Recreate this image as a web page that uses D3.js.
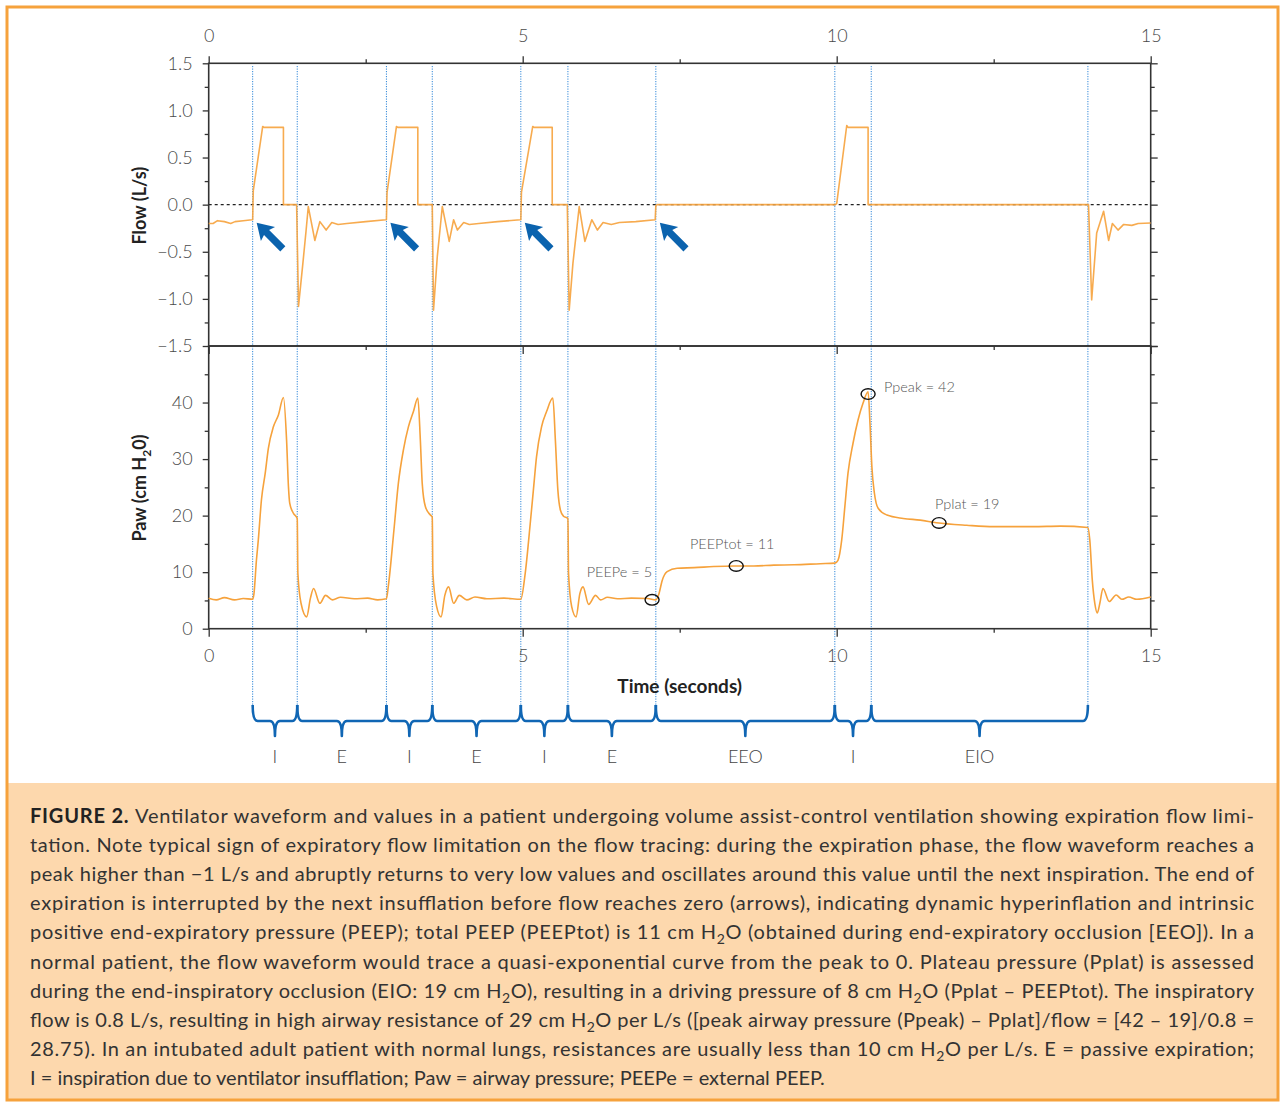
<!DOCTYPE html>
<html>
<head>
<meta charset="utf-8">
<script src="https://cdn.jsdelivr.net/npm/d3@7"></script>
<style>
  body { margin: 0; background: #fff; }
  svg { display: block; font-family: Lato, "Open Sans", sans-serif; }
</style>
</head>
<body>
<svg id="chart" width="1285" height="1103"></svg>
<script>
// Ventilator waveforms: flow (top) and airway pressure (bottom) against time

// flow trace, [seconds, L/s]
const flowTrace = [
  [0, -0.2], [0.07, -0.2], [0.14, -0.17], [0.25, -0.18], [0.35, -0.2], [0.42, -0.18], [0.55, -0.17], [0.69, -0.16],
  [0.70, -0.16], [0.71, 0.15], [0.86, 0.83], [0.88, 0.82], [1.19, 0.82], [1.19, 0], [1.40, 0],
  [1.43, -1.08], [1.50, -0.62], [1.55, -0.28], [1.586, -0.02], [1.69, -0.38], [1.77, -0.18], [1.87, -0.27],
  [1.96, -0.19], [2.06, -0.21], [2.2, -0.2], [2.5, -0.18], [2.82, -0.16],
  [2.83, -0.16], [2.84, 0.13], [2.99, 0.83], [3.01, 0.82], [3.33, 0.82], [3.33, 0], [3.56, 0],
  [3.58, -1.12], [3.64, -0.55], [3.72, -0.02], [3.83, -0.39], [3.90, -0.16], [3.96, -0.27], [4.06, -0.19],
  [4.15, -0.21], [4.3, -0.2], [4.6, -0.18], [4.96, -0.16],
  [4.97, -0.16], [4.98, 0.13], [5.16, 0.83], [5.18, 0.82], [5.47, 0.82], [5.47, 0], [5.71, 0],
  [5.74, -1.12], [5.80, -0.62], [5.90, -0.02], [5.99, -0.39], [6.10, -0.16], [6.19, -0.27], [6.28, -0.19],
  [6.41, -0.21], [6.54, -0.19], [6.8, -0.18], [7.11, -0.16],
  [7.12, -0.01], [7.14, 0], [9.97, 0],
  [10.0, 0.01], [10.16, 0.84], [10.18, 0.82], [10.50, 0.82], [10.50, 0], [14.01, 0],
  [14.06, -1.01], [14.14, -0.30], [14.25, -0.07], [14.33, -0.38], [14.39, -0.2], [14.48, -0.27],
  [14.57, -0.21], [14.70, -0.22], [14.80, -0.2], [15, -0.195]
];

// airway pressure trace, [seconds, cm H2O]
const pawTrace = [
  [0, 5.4], [0.12, 5.1], [0.25, 5.5], [0.41, 5.1], [0.55, 5.35], [0.70, 5.2],
  [0.72, 6.1], [0.76, 12.1], [0.79, 15.7], [0.84, 22.8], [0.90, 27.5], [0.95, 31.9], [1.03, 35.7], [1.11, 37.8], [1.19, 40.9],
  [1.24, 33.4], [1.27, 25.1], [1.29, 22.2], [1.35, 20.4], [1.41, 19.5],
  [1.42, 9.8], [1.47, 4.5], [1.56, 2.1], [1.62, 5.4], [1.67, 7.1], [1.77, 4.5], [1.86, 5.9], [1.97, 5.1],
  [2.1, 5.55], [2.32, 5.3], [2.53, 5.4], [2.69, 5.1], [2.83, 5.3],
  [2.86, 7.5], [2.95, 17.5], [3.02, 25.7], [3.10, 31.6], [3.18, 35.7], [3.26, 38.4], [3.33, 40.8],
  [3.37, 33.4], [3.40, 25.7], [3.45, 21.6], [3.53, 20.1], [3.56, 19.7],
  [3.57, 9.8], [3.63, 3.9], [3.70, 2.1], [3.76, 5.9], [3.82, 7.4], [3.90, 4.5], [3.99, 5.9], [4.11, 5.1],
  [4.24, 5.6], [4.43, 5.3], [4.70, 5.4], [4.97, 5.2],
  [5.04, 9.8], [5.12, 18.6], [5.17, 24.5], [5.22, 30.4], [5.30, 35.7], [5.38, 38.4], [5.48, 40.8],
  [5.52, 33.4], [5.56, 24.5], [5.60, 21.0], [5.65, 19.9], [5.72, 19.5],
  [5.73, 9.8], [5.78, 3.9], [5.85, 2.1], [5.91, 6.2], [5.96, 7.4], [6.05, 4.3], [6.16, 5.9], [6.24, 5.1],
  [6.35, 5.55], [6.51, 5.3], [6.73, 5.4], [6.99, 5.35], [7.12, 5.1],
  [7.17, 6.2], [7.22, 8.5], [7.30, 10.1], [7.46, 10.7], [7.73, 10.8], [8.04, 11.0], [8.36, 11.1], [8.68, 11.1],
  [9.0, 11.25], [9.32, 11.3], [9.74, 11.5], [9.97, 11.6],
  [10.02, 12.1], [10.08, 15.7], [10.13, 21.6], [10.18, 27.5], [10.26, 32.8], [10.34, 36.9], [10.42, 39.9], [10.50, 41.9],
  [10.53, 36.3], [10.56, 28.7], [10.60, 24.0], [10.66, 21.3], [10.80, 20.1], [11.06, 19.5], [11.33, 19.2],
  [11.59, 18.75], [12.07, 18.3], [12.50, 18.05], [13.13, 18.05], [13.56, 18.15], [14.0, 17.9],
  [14.03, 15.7], [14.07, 8.6], [14.11, 4.5], [14.15, 2.8], [14.19, 4.5], [14.24, 7.1], [14.34, 4.8],
  [14.45, 5.96], [14.54, 5.2], [14.65, 5.6], [14.78, 5.2], [15, 5.6]
];

// phase boundaries (s) and the phase names between them
const phaseBounds = [0.70, 1.41, 2.83, 3.56, 4.97, 5.72, 7.12, 9.97, 10.55, 14.0];
const phaseLabels = ["I", "E", "I", "E", "I", "E", "EEO", "I", "EIO"];

// arrows mark interrupted expirations: [seconds, flow]
const arrowPoints = [[0.70, -0.17], [2.83, -0.17], [4.97, -0.17], [7.12, -0.17]];

// circled pressure readings
const pressureNotes = [
  { key: "peepe", label: "PEEPe = 5", t: 7.06, p: 5.1 },
  { key: "peeptot", label: "PEEPtot = 11", t: 8.40, p: 11.1 },
  { key: "ppeak", label: "Ppeak = 42", t: 10.50, p: 41.5 },
  { key: "pplat", label: "Pplat = 19", t: 11.63, p: 18.7 }
];

const timeMajor = [0, 5, 10, 15];
const timeMinor = [2.5, 7.5, 12.5];
const flowMajor = [-1.5, -1.0, -0.5, 0, 0.5, 1.0, 1.5];
const flowMinor = [-1.25, -0.75, -0.25, 0.25, 0.75, 1.25];
const pawMajor = [0, 10, 20, 30, 40, 50];
const pawLabeled = [0, 10, 20, 30, 40];
const pawMinor = [5, 15, 25, 35, 45];

const captionLines = [
  "Ventilator waveform and values in a patient undergoing volume assist-control ventilation showing expiration flow limi-",
  "tation. Note typical sign of expiratory flow limitation on the flow tracing: during the expiration phase, the flow waveform reaches a",
  "peak higher than \u22121 L/s and abruptly returns to very low values and oscillates around this value until the next inspiration. The end of",
  "expiration is interrupted by the next insufflation before flow reaches zero (arrows), indicating dynamic hyperinflation and intrinsic",
  "positive end-expiratory pressure (PEEP); total PEEP (PEEPtot) is 11 cm H2O (obtained during end-expiratory occlusion [EEO]). In a",
  "normal patient, the flow waveform would trace a quasi-exponential curve from the peak to 0. Plateau pressure (Pplat) is assessed",
  "during the end-inspiratory occlusion (EIO: 19 cm H2O), resulting in a driving pressure of 8 cm H2O (Pplat \u2013 PEEPtot). The inspiratory",
  "flow is 0.8 L/s, resulting in high airway resistance of 29 cm H2O per L/s ([peak airway pressure (Ppeak) \u2013 Pplat]/flow = [42 \u2013 19]/0.8 =",
  "28.75). In an intubated adult patient with normal lungs, resistances are usually less than 10 cm H2O per L/s. E = passive expiration;",
  "I = inspiration due to ventilator insufflation; Paw = airway pressure; PEEPe = external PEEP."
];

// ---- layout ----
const svg = d3.select("#chart");
const ORANGE = "#f6a23c";
const BLUE = "#1066b4";
const AXIS = "#333";
const TICKTXT = "#4a4a4a";

const x = d3.scaleLinear().domain([0, 15]).range([208.7, 1150.7]);
const yFlow = d3.scaleLinear().domain([-1.5, 1.5]).range([346, 63.3]);
const yPaw = d3.scaleLinear().domain([0, 50]).range([628.7, 346]);

// frame and caption box
svg.append("rect").attr("x", 7).attr("y", 783).attr("width", 1271).attr("height", 317)
  .attr("fill", "#fdd8ad");
svg.append("rect").attr("x", 7).attr("y", 7).attr("width", 1271).attr("height", 1093)
  .attr("fill", "none").attr("stroke", ORANGE).attr("stroke-width", 3);

// phase divider lines
svg.append("g").selectAll("line")
  .data(phaseBounds)
  .enter().append("line")
  .attr("x1", d => x(d)).attr("x2", d => x(d))
  .attr("y1", 66).attr("y2", 705)
  .attr("stroke", "#2f86d8")
  .attr("stroke-width", 1)
  .attr("stroke-dasharray", "1.2,1.3");

// zero flow reference
svg.append("line")
  .attr("x1", x(0)).attr("x2", x(15))
  .attr("y1", yFlow(0)).attr("y2", yFlow(0))
  .attr("stroke", "#222").attr("stroke-width", 1.3)
  .attr("stroke-dasharray", "3,3");

// axes
function styleAxis(g, fontSize) {
  g.select(".domain").remove();
  g.selectAll(".tick line").attr("stroke", AXIS).attr("stroke-width", 1.3);
  g.selectAll("text")
    .attr("fill", TICKTXT)
    .attr("font-size", fontSize || 18)
    .attr("font-weight", 300)
    .attr("font-family", "Lato, 'Open Sans', sans-serif");
}

const fmtFlow = d3.format(".1f");

svg.append("g").attr("transform", `translate(0,${yFlow(1.5)})`)
  .call(d3.axisTop(x).tickValues(timeMajor).tickSize(7).tickPadding(14).tickFormat(d3.format("d")))
  .call(styleAxis);
svg.append("g").attr("transform", `translate(0,${yFlow(1.5)})`)
  .call(d3.axisTop(x).tickValues(timeMinor).tickSize(4).tickFormat(""))
  .call(styleAxis);

svg.append("g").attr("transform", `translate(0,${yFlow(-1.5)})`)
  .call(d3.axisBottom(x).tickValues(timeMajor).tickSize(8).tickFormat(""))
  .call(styleAxis);
svg.append("g").attr("transform", `translate(0,${yFlow(-1.5)})`)
  .call(d3.axisBottom(x).tickValues(timeMinor).tickSize(4).tickFormat(""))
  .call(styleAxis);

svg.append("g").attr("transform", `translate(0,${yPaw(0)})`)
  .call(d3.axisBottom(x).tickValues(timeMajor).tickSize(8).tickPadding(13).tickFormat(d3.format("d")))
  .call(styleAxis);
svg.append("g").attr("transform", `translate(0,${yPaw(0)})`)
  .call(d3.axisBottom(x).tickValues(timeMinor).tickSize(4).tickFormat(""))
  .call(styleAxis);

svg.append("g").attr("transform", `translate(${x(0)},0)`)
  .call(d3.axisLeft(yFlow).tickValues(flowMajor).tickSize(6).tickPadding(10).tickFormat(fmtFlow))
  .call(styleAxis);
svg.append("g").attr("transform", `translate(${x(0)},0)`)
  .call(d3.axisLeft(yFlow).tickValues(flowMinor).tickSize(4).tickFormat(""))
  .call(styleAxis);
svg.append("g").attr("transform", `translate(${x(0)},0)`)
  .call(d3.axisLeft(yPaw).tickValues(pawLabeled).tickSize(6).tickPadding(10).tickFormat(d3.format("d")))
  .call(styleAxis);
svg.append("g").attr("transform", `translate(${x(0)},0)`)
  .call(d3.axisLeft(yPaw).tickValues(pawMinor).tickSize(4).tickFormat(""))
  .call(styleAxis);

svg.append("g").attr("transform", `translate(${x(15)},0)`)
  .call(d3.axisRight(yFlow).tickValues(flowMajor).tickSize(7).tickFormat(""))
  .call(styleAxis);
svg.append("g").attr("transform", `translate(${x(15)},0)`)
  .call(d3.axisRight(yFlow).tickValues(flowMinor).tickSize(4).tickFormat(""))
  .call(styleAxis);
svg.append("g").attr("transform", `translate(${x(15)},0)`)
  .call(d3.axisRight(yPaw).tickValues(pawMajor).tickSize(7).tickFormat(""))
  .call(styleAxis);
svg.append("g").attr("transform", `translate(${x(15)},0)`)
  .call(d3.axisRight(yPaw).tickValues(pawMinor).tickSize(4).tickFormat(""))
  .call(styleAxis);

// panel frames
[[yFlow(1.5), yFlow(-1.5)], [yPaw(50), yPaw(0)]].forEach(([top, bottom]) => {
  svg.append("rect")
    .attr("x", x(0)).attr("y", top)
    .attr("width", x(15) - x(0)).attr("height", bottom - top)
    .attr("fill", "none").attr("stroke", AXIS).attr("stroke-width", 1.6);
});

// traces
const flowLine = d3.line().x(d => x(d[0])).y(d => yFlow(d[1]));
const pawLine = d3.line().x(d => x(d[0])).y(d => yPaw(d[1])).curve(d3.curveMonotoneX);

svg.append("path").datum(flowTrace)
  .attr("d", flowLine)
  .attr("fill", "none").attr("stroke", ORANGE).attr("stroke-width", 1.6)
  .attr("stroke-opacity", 0.9).attr("stroke-linejoin", "round");

svg.append("path").datum(pawTrace)
  .attr("d", pawLine)
  .attr("fill", "none").attr("stroke", ORANGE).attr("stroke-width", 1.6)
  .attr("stroke-linejoin", "round");

// arrows pointing at the interrupted expirations
svg.append("g").selectAll("path")
  .data(arrowPoints)
  .enter().append("path")
  .attr("d", "M0,0L16,-10L14,-3.6L37,-3.6L37,3.6L14,3.6L16,10Z")
  .attr("transform", d => `translate(${x(d[0]) + 4},${yFlow(d[1]) + 2}) rotate(45)`)
  .attr("fill", "#0b63ae");

// circled readings and their labels
const noteOffsets = {
  peepe: { dx: 0, dy: -23, anchor: "end" },
  peeptot: { dx: -4, dy: -17, anchor: "middle" },
  ppeak: { dx: 16, dy: -2, anchor: "start" },
  pplat: { dx: -4, dy: -14, anchor: "start" }
};

const notes = svg.append("g");
notes.selectAll("ellipse")
  .data(pressureNotes)
  .enter().append("ellipse")
  .attr("cx", d => x(d.t)).attr("cy", d => yPaw(d.p))
  .attr("rx", 7).attr("ry", 5.3)
  .attr("fill", "none").attr("stroke", "#111").attr("stroke-width", 1.4);
notes.selectAll("text")
  .data(pressureNotes)
  .enter().append("text")
  .attr("x", d => x(d.t) + noteOffsets[d.key].dx)
  .attr("y", d => yPaw(d.p) + noteOffsets[d.key].dy)
  .attr("text-anchor", d => noteOffsets[d.key].anchor)
  .attr("font-size", 14.5)
  .attr("font-weight", 300)
  .attr("fill", "#555")
  .text(d => d.label);

// axis titles
svg.append("text")
  .attr("transform", `translate(146,${yFlow(0) + 1}) rotate(-90)`)
  .attr("text-anchor", "middle")
  .attr("font-size", 18).attr("font-weight", 700).attr("fill", "#222")
  .text("Flow (L/s)");

const pawTitle = svg.append("text")
  .attr("transform", `translate(146,488) rotate(-90)`)
  .attr("text-anchor", "middle")
  .attr("font-size", 18).attr("font-weight", 700).attr("fill", "#222");
pawTitle.append("tspan").text("Paw (cm H");
pawTitle.append("tspan").attr("font-size", 12).attr("dy", 5).text("2");
pawTitle.append("tspan").attr("dy", -5).text("0)");

svg.append("text")
  .attr("x", (x(0) + x(15)) / 2).attr("y", 693)
  .attr("text-anchor", "middle")
  .attr("font-size", 19).attr("font-weight", 700).attr("fill", "#222")
  .text("Time (seconds)");

// phase braces under the time axis
const braceTop = 705, braceMid = 721, braceTip = 736;
function bracePath(x1, x2) {
  const xm = (x1 + x2) / 2, r = 5;
  return `M${x1},${braceTop}Q${x1},${braceMid} ${x1 + r},${braceMid}` +
    `L${xm - r},${braceMid}Q${xm},${braceMid} ${xm},${braceTip}` +
    `Q${xm},${braceMid} ${xm + r},${braceMid}` +
    `L${x2 - r},${braceMid}Q${x2},${braceMid} ${x2},${braceTop}`;
}

const phases = phaseLabels.map((label, i) => ({ label, t0: phaseBounds[i], t1: phaseBounds[i + 1] }));
const braces = svg.append("g");
braces.selectAll("path")
  .data(phases)
  .enter().append("path")
  .attr("d", d => bracePath(x(d.t0), x(d.t1)))
  .attr("fill", "none").attr("stroke", BLUE).attr("stroke-width", 2.6)
  .attr("stroke-linejoin", "round");
braces.selectAll("text")
  .data(phases)
  .enter().append("text")
  .attr("x", d => (x(d.t0) + x(d.t1)) / 2)
  .attr("y", 763)
  .attr("text-anchor", "middle")
  .attr("font-size", 18).attr("font-weight", 300).attr("fill", "#444")
  .text(d => d.label);

// caption
const caption = svg.append("g").attr("fill", "#333").attr("font-size", 20);
captionLines.forEach((line, i) => {
  const t = caption.append("text")
    .attr("x", 30).attr("y", 823 + i * 29.1);
  if (i < captionLines.length - 1) {
    t.attr("textLength", 1224).attr("lengthAdjust", "spacing");
  }
  if (i === 0) {
    t.append("tspan").attr("font-weight", 700).attr("fill", "#222").text("FIGURE 2. ");
  }
  const parts = line.split("H2O");
  parts.forEach((part, j) => {
    t.append("tspan").text(part);
    if (j < parts.length - 1) {
      t.append("tspan").text("H");
      t.append("tspan").attr("font-size", 14).attr("dy", 5).text("2");
      t.append("tspan").attr("dy", -5).text("O");
    }
  });
});
</script>
</body>
</html>
